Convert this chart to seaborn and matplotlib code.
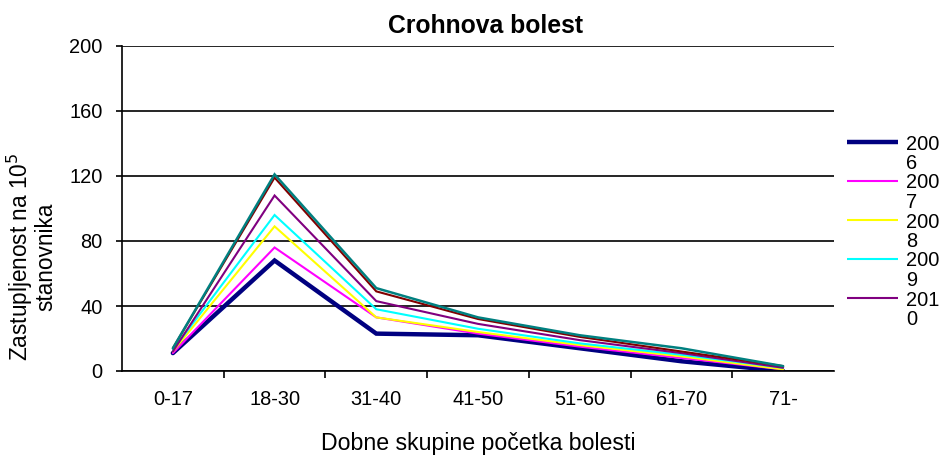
import matplotlib
matplotlib.use("Agg")
import matplotlib.pyplot as plt
from matplotlib.lines import Line2D
from matplotlib.ticker import FixedLocator
import pandas as pd
import seaborn as sns

# Age groups at onset of disease
age_groups = ["0-17", "18-30", "31-40", "41-50", "51-60", "61-70", "71-"]

# Prevalence per 100 000 inhabitants, one list per year
years = ["2006", "2007", "2008", "2009", "2010", "2011", "2012"]
y2006 = [11, 68, 23, 22, 14, 6, 0]
y2007 = [11, 76, 33, 23, 15, 8, 1]
y2008 = [12, 89, 33, 24, 16, 9, 1]
y2009 = [13, 96, 38, 26, 17, 10, 2]
y2010 = [12, 108, 43, 29, 19, 11, 2]
y2011 = [14, 119, 49, 32, 21, 12, 3]
y2012 = [14, 121, 51, 33, 22, 14, 3]
series = [y2006, y2007, y2008, y2009, y2010, y2011, y2012]

y_ticks = [0, 40, 80, 120, 160, 200]

colors = ["#000080", "#FF00FF", "#FFFF00", "#00FFFF", "#800080", "#800000", "#008080"]
widths = [3.2, 1.5, 1.5, 1.5, 1.5, 1.5, 1.8]

sns.set_theme(style="white")
plt.rcParams["font.family"] = ["Liberation Sans", "DejaVu Sans"]

df = pd.DataFrame(
    [(yr, grp, v) for yr, vals in zip(years, series) for grp, v in zip(age_groups, vals)],
    columns=["year", "group", "value"],
)

W, H = 942, 457
fig = plt.figure(figsize=(W / 100, H / 100), dpi=100)
ax = fig.add_axes([122 / W, 1 - 371 / H, 712 / W, 325 / H])

sns.lineplot(
    data=df, x="group", y="value", hue="year", size="year",
    palette=dict(zip(years, colors)), sizes=dict(zip(years, widths)),
    sort=False, legend=False, ax=ax,
)
for line in ax.get_lines():
    line.set_solid_joinstyle("miter")

ax.set_xlim(-0.5, len(age_groups) - 0.5)
ax.set_ylim(y_ticks[0], y_ticks[-1])
ax.set_yticks(y_ticks)
ax.yaxis.grid(True, color="black", linewidth=1.2)
ax.xaxis.grid(False)
ax.set_axisbelow(True)

for side in ["top", "right"]:
    ax.spines[side].set_visible(False)
for side in ["left", "bottom"]:
    ax.spines[side].set_visible(True)
    ax.spines[side].set_color("black")
    ax.spines[side].set_linewidth(1.2)

ax.xaxis.set_minor_locator(FixedLocator([i + 0.5 for i in range(len(age_groups) - 1)]))
ax.tick_params(axis="x", which="major", length=0, pad=14, labelsize=14.4, colors="black")
ax.tick_params(axis="x", which="minor", bottom=True, length=5, width=1.2, color="black", direction="out")
ax.tick_params(axis="y", which="major", left=True, length=4, width=1.2, pad=10,
               labelsize=14.4, colors="black", direction="out")

title = ax.set_title("Crohnova bolest", fontsize=17.8, fontweight="bold", pad=9, color="black")
title.set_position((0.51, 1.0))
ax.set_xlabel("Dobne skupine početka bolesti", fontsize=16.7, labelpad=16, color="black")
ax.set_ylabel("")
fig.text(31 / W, 1 - 257 / H, "Zastupljenost na 10$^5$\nstanovnika", rotation=90,
         ha="center", va="center", multialignment="center", fontsize=16.3, color="black",
         linespacing=0.95)

# Legend: the narrow box wraps each year after its third digit
for i, yr in enumerate(years[:5]):
    y = 142 + 39 * i
    fig.add_artist(Line2D([847 / W, 898 / W], [1 - y / H, 1 - y / H], transform=fig.transFigure,
                          color=colors[i], linewidth=widths[i], solid_capstyle="butt"))
    fig.text(906 / W, 1 - (y + 2) / H, yr[:3], ha="left", va="center", fontsize=14.4, color="black")
    fig.text(906 / W, 1 - (y + 21.5) / H, yr[3:], ha="left", va="center", fontsize=14.4, color="black")

fig.savefig("out.png", dpi=100, facecolor="white")
